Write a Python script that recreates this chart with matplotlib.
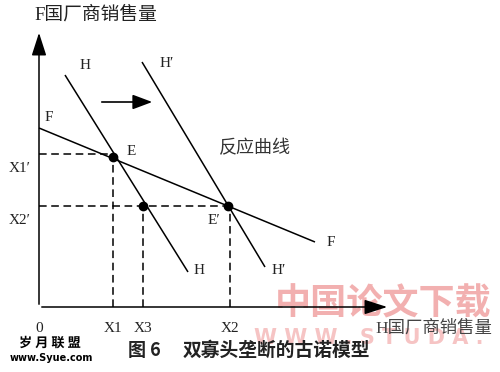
import matplotlib
matplotlib.use("Agg")
import matplotlib.pyplot as plt
import matplotlib.patheffects as pe

# ---- data (diagram units) ----
axis_x_max = 35.1
axis_y_max = 27.7
line_F = ([0.0, 27.6], [17.9, 6.5])
line_H = ([2.6, 14.9], [23.2, 3.5])
line_Hp = ([10.3, 22.6], [24.5, 4.0])
pt_E = (7.4, 15.0)
pt_X3 = (10.4, 10.1)
pt_Ep = (18.9, 10.1)
x_ticks = [0.0, 7.4, 10.4, 19.1]
x_tick_labels = ["0", "X1", "X3", "X2"]
y_levels = [15.3, 10.1]
y_labels = ["X1′", "X2′"]
shift_arrow = ([6.0, 11.6], [20.5, 20.5])

serif_cjk = ["Liberation Serif", "Noto Sans CJK SC"]
cjk = ["Noto Sans CJK SC", "DejaVu Sans"]

fig = plt.figure(figsize=(5.0, 3.72), dpi=100)
ax = fig.add_axes([0, 0, 1, 1])
ax.set_xlim(-3.9, 46.1)
ax.set_ylim(-6.5, 30.7)
ax.axis("off")

# watermark (behind everything)
ax.text(34.4, 0.3, "中国论文下载", fontsize=26, family=cjk, fontweight="bold", ha="center", va="center",
        color="#f2b0b0", zorder=0)
ax.text(33.0, -3.1, "W W W . S T U D A .", fontsize=15, family="DejaVu Sans", fontweight="bold",
        ha="center", va="center", color="#f6c4c4", zorder=0)

lw = 1.1
# axes with arrows
ax.annotate("", xy=(0, axis_y_max), xytext=(0, 0),
            arrowprops=dict(arrowstyle="-|>,head_length=1.4,head_width=0.45", color="black", lw=lw))
ax.annotate("", xy=(axis_x_max, 0), xytext=(0, 0),
            arrowprops=dict(arrowstyle="-|>,head_length=1.4,head_width=0.45", color="black", lw=lw))

# reaction curves
for xs, ys in (line_F, line_H, line_Hp):
    ax.plot(xs, ys, color="black", lw=lw, solid_capstyle="butt")

# dashed guides
dash = dict(color="black", lw=1.1, dashes=(5, 3))
ax.plot([0, pt_E[0]], [y_levels[0], y_levels[0]], **dash)
ax.plot([x_ticks[1], x_ticks[1]], [0, y_levels[0]], **dash)
ax.plot([0, pt_Ep[0]], [y_levels[1], y_levels[1]], **dash)
ax.plot([x_ticks[2], x_ticks[2]], [0, y_levels[1]], **dash)
ax.plot([x_ticks[3], x_ticks[3]], [0, y_levels[1]], **dash)

# points
for p in (pt_E, pt_X3, pt_Ep):
    ax.plot([p[0]], [p[1]], "o", color="black", ms=6, zorder=5)

# shift arrow
ax.annotate("", xy=(shift_arrow[0][1], shift_arrow[1][1]), xytext=(shift_arrow[0][0], shift_arrow[1][0]),
            arrowprops=dict(arrowstyle="-|>,head_length=1.2,head_width=0.45", color="black", lw=1.2))

tfs = 11
tc = "#222222"
# tick labels
for xv, lab in zip(x_ticks, x_tick_labels):
    ax.text(xv, -2.1, lab, ha="center", va="center", fontsize=tfs, family="Liberation Serif", color=tc)
for yv, lab in zip(y_levels, y_labels):
    ax.text(-1.9, yv - 1.4, lab, ha="center", va="center", fontsize=tfs, family="Liberation Serif", color=tc)

# curve labels
ax.text(1.0, 19.0, "F", fontsize=tfs, family="Liberation Serif", ha="center", va="center", color=tc)
ax.text(4.6, 24.2, "H", fontsize=tfs, family="Liberation Serif", ha="center", va="center", color=tc)
ax.text(12.8, 24.4, "H′", fontsize=tfs, family="Liberation Serif", ha="center", va="center", color=tc)
ax.text(9.2, 15.6, "E", fontsize=tfs, family="Liberation Serif", ha="center", va="center", color=tc)
ax.text(17.5, 8.7, "E′", fontsize=tfs, family="Liberation Serif", ha="center", va="center", color=tc)
ax.text(16.0, 3.7, "H", fontsize=tfs, family="Liberation Serif", ha="center", va="center", color=tc)
ax.text(24.0, 3.7, "H′", fontsize=tfs, family="Liberation Serif", ha="center", va="center", color=tc)
ax.text(29.2, 6.4, "F", fontsize=tfs, family="Liberation Serif", ha="center", va="center", color=tc)
ax.text(21.6, 15.9, "反应曲线", fontsize=13, family=cjk, ha="center", va="center", color="#333333")

# axis titles
ax.text(-0.5, 29.2, "F国厂商销售量", fontsize=13.5, family=serif_cjk, ha="left", va="center", color=tc)
ax.text(39.5, -2.1, "H国厂商销售量", fontsize=12.5, family=serif_cjk, ha="center", va="center", color="#444444")

# caption
ax.text(10.5, -4.3, "图 6", fontsize=13, family=cjk, fontweight="bold", ha="center", va="center", color="#222222")
ax.text(23.7, -4.3, "双寡头垄断的古诺模型", fontsize=13.5, family=cjk, fontweight="bold", ha="center",
        va="center", color="#222222")

# left watermark
wm = [pe.withStroke(linewidth=1.5, foreground="white")]
ax.text(1.1, -3.6, "岁 月 联 盟", fontsize=9.5, family=cjk, fontweight="bold", ha="center", va="center",
        color="black", path_effects=wm)
ax.text(1.2, -5.1, "www.Syue.com", fontsize=7, family="DejaVu Sans", fontweight="bold", ha="center", va="center",
        color="black")

fig.savefig("out.png", dpi=100)
